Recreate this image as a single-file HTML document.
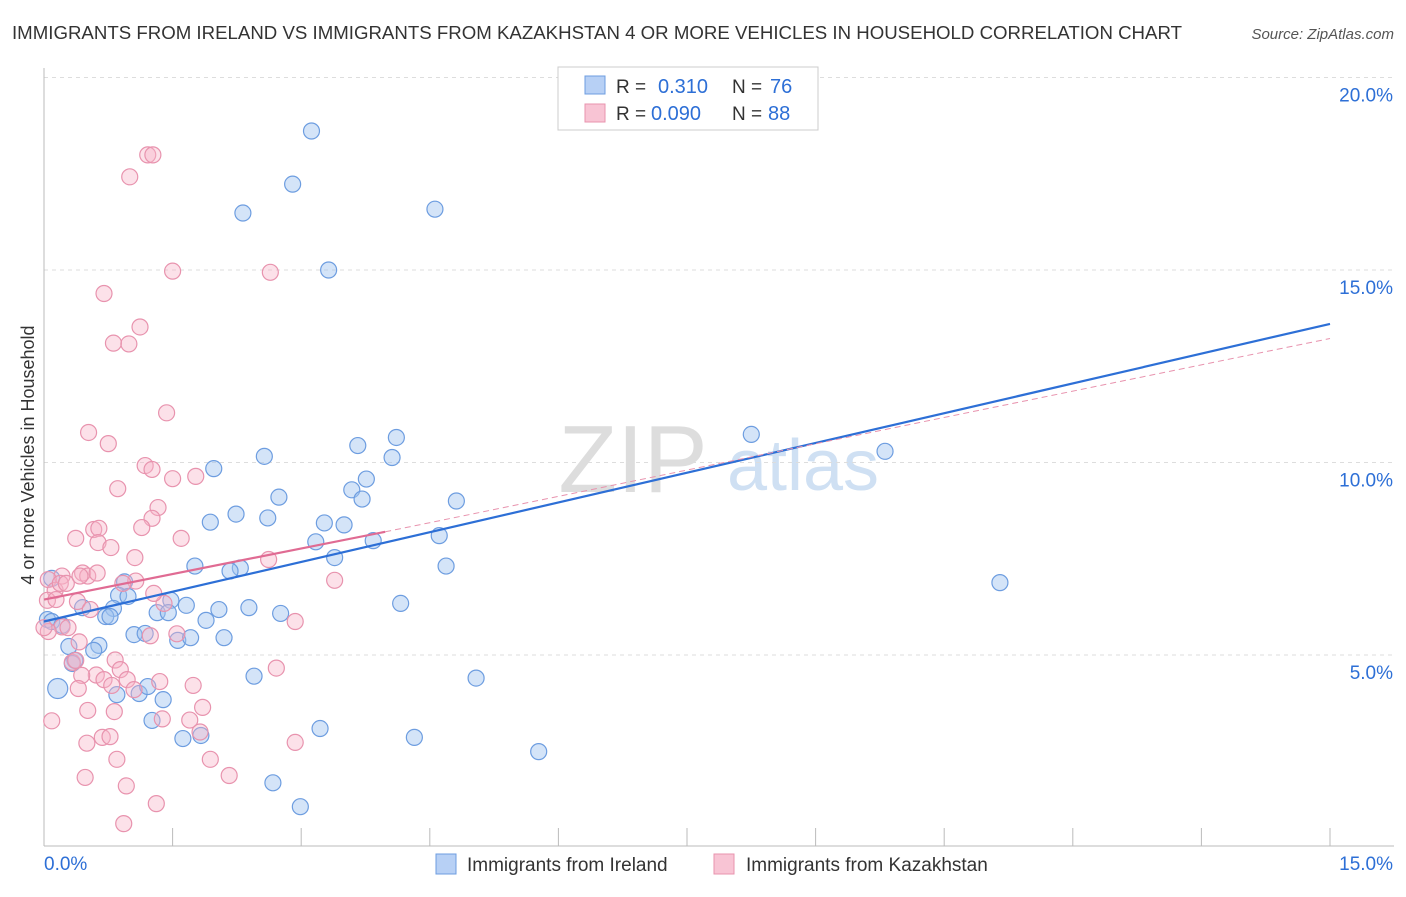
<!DOCTYPE html>
<html><head><meta charset="utf-8"><style>
body{margin:0;background:#fff;font-family:"Liberation Sans",sans-serif;}
svg text{font-family:"Liberation Sans",sans-serif;}
</style></head><body>
<svg id="c" width="1406" height="892" xmlns="http://www.w3.org/2000/svg">
<text x="12" y="39" font-size="18" fill="#333" textLength="1170" lengthAdjust="spacingAndGlyphs">IMMIGRANTS FROM IRELAND VS IMMIGRANTS FROM KAZAKHSTAN 4 OR MORE VEHICLES IN HOUSEHOLD CORRELATION CHART</text>
<text x="1394" y="39" font-size="15" fill="#555" font-style="italic" text-anchor="end">Source: ZipAtlas.com</text>
<text x="633" y="492" font-size="96" fill="#ddd" font-family="Liberation Serif" text-anchor="middle">ZIP</text>
<text x="803" y="490" font-size="72" fill="#cfe0f3" text-anchor="middle">atlas</text>
<text transform="translate(34,455) rotate(-90)" font-size="18" fill="#333" text-anchor="middle">4 or more Vehicles in Household</text>
<g id="grid"></g><g id="pts"></g><g id="lines"></g>
<g>
<rect x="558" y="67" width="260" height="63" fill="#fff" stroke="#ccc"/>
<rect x="585" y="76" width="20" height="18" fill="#b7d0f5" stroke="#6d9de0"/>
<rect x="585" y="104" width="20" height="18" fill="#f8c4d4" stroke="#e893ae"/>
<text x="616" y="93" font-size="19" fill="#333">R =</text><text x="658" y="93" font-size="20" fill="#2d6fd6">0.310</text>
<text x="732" y="93" font-size="19" fill="#333">N =</text><text x="770" y="93" font-size="20" fill="#2d6fd6">76</text>
<text x="616" y="120" font-size="19" fill="#333">R =</text><text x="651" y="120" font-size="20" fill="#2d6fd6">0.090</text>
<text x="732" y="120" font-size="19" fill="#333">N =</text><text x="768" y="120" font-size="20" fill="#2d6fd6">88</text>
</g>
<g>
<rect x="436" y="854" width="20" height="20" fill="#b7d0f5" stroke="#6d9de0"/>
<text x="467" y="871" font-size="19" fill="#333">Immigrants from Ireland</text>
<rect x="714" y="854" width="20" height="20" fill="#f8c4d4" stroke="#e893ae"/>
<text x="746" y="871" font-size="19" fill="#333">Immigrants from Kazakhstan</text>
</g>
</svg>
<script>
const xTicks=[0,1.5,3,4.5,6,7.5,9,10.5,12,13.5,15];
const yTicks=[5,10,15,20];
const yTickLabels=["5.0%","10.0%","15.0%","20.0%"];
const irelandX=[3.12,2.9,2.32,4.56,3.32,8.25,9.81,4.11,3.66,4.06,2.57,1.98,3.76,3.59,2.74,3.71,4.81,2.24,2.61,1.94,3.27,3.5,3.17,4.61,3.84,3.39,1.76,2.29,2.17,4.69,0.94,11.15,0.87,0.98,1.48,1.66,0.45,0.81,1.32,1.45,4.16,2.39,2.04,2.76,0.72,0.77,1.89,0.04,0.09,0.21,1.05,1.18,1.56,1.71,2.1,0.29,0.64,0.58,0.36,0.33,2.45,5.04,0.16,0.85,1.11,1.39,1.26,1.62,1.83,3.22,4.32,5.77,2.67,2.99,1.21,0.09];
const irelandY=[18.61,17.23,16.48,16.58,15.0,10.73,10.29,10.65,10.44,10.13,10.16,9.84,9.57,9.29,9.1,9.05,9.0,8.66,8.56,8.45,8.43,8.38,7.94,8.1,7.97,7.53,7.31,7.26,7.18,7.31,6.9,6.88,6.55,6.52,6.42,6.29,6.23,6.21,6.1,6.1,6.34,6.23,6.18,6.08,6.0,6.0,5.9,5.92,5.87,5.77,5.53,5.56,5.38,5.45,5.45,5.22,5.25,5.12,4.86,4.78,4.45,4.4,4.13,3.97,4.0,3.84,3.3,2.83,2.91,3.09,2.86,2.49,1.68,1.06,4.18,6.99];
const kazX=[1.21,1.27,1.0,1.5,2.64,0.7,1.12,0.81,0.99,1.43,0.52,0.75,1.18,1.26,1.5,1.77,0.86,1.33,1.26,1.14,0.58,0.64,0.37,1.6,0.63,0.78,1.06,2.62,0.21,0.45,0.51,0.62,1.07,0.92,3.39,0.05,0.13,0.19,0.26,0.04,0.39,0.54,1.4,1.28,0.21,0.28,2.93,1.55,1.24,0.41,0.05,0.83,0.33,0.37,2.71,0.61,0.44,0.7,0.89,0.97,1.35,1.74,0.79,1.05,0.4,1.85,0.51,0.82,1.38,0.09,1.7,0.5,0.68,0.77,1.82,2.93,1.94,0.85,0.48,2.16,0.96,1.31,0.93,0,0.14,0.42];
const kazY=[17.99,17.99,17.42,14.97,14.94,14.39,13.52,13.1,13.08,11.29,10.78,10.49,9.92,9.82,9.58,9.64,9.32,8.83,8.55,8.31,8.26,8.29,8.03,8.03,7.92,7.79,7.53,7.48,7.05,7.13,7.05,7.13,6.92,6.86,6.94,6.96,6.68,6.86,6.86,6.42,6.39,6.18,6.34,6.6,5.73,5.71,5.87,5.55,5.5,5.34,5.61,4.87,4.81,4.86,4.66,4.48,4.47,4.36,4.62,4.36,4.31,4.21,4.21,4.1,4.13,3.64,3.56,3.53,3.34,3.29,3.31,2.71,2.86,2.88,3.0,2.73,2.29,2.29,1.82,1.87,1.6,1.14,0.62,5.71,6.44,7.05];
const xs=v=>44+v/15*1286, ys=v=>847.5-v/5*192.5;
const NS='http://www.w3.org/2000/svg';
function mk(t,a,p){const e=document.createElementNS(NS,t);for(const k in a)e.setAttribute(k,a[k]);p.appendChild(e);return e;}
const g=document.getElementById('grid');
yTicks.forEach((v,i)=>{
 const l=mk('line',{x1:44,x2:1394,y1:ys(v),y2:ys(v),stroke:'#ddd','stroke-dasharray':'4,4'},g);
 
 
 const t=mk('text',{x:1393,y:ys(v)+24,'font-size':19,fill:'#2d6fd6','text-anchor':'end'},g);t.textContent=yTickLabels[i];
 
 
});
mk('line',{x1:44,x2:44,y1:68,y2:846,stroke:'#bbb'},g);
mk('line',{x1:44,x2:1394,y1:846,y2:846,stroke:'#bbb'},g);
xTicks.forEach(v=>{const l=mk('line',{x1:xs(v),x2:xs(v),y1:828,y2:846,stroke:'#bbb'},g);
 
 });
let t=mk('text',{x:44,y:870,'font-size':19,fill:'#2d6fd6'},g);t.textContent='0.0%';


t=mk('text',{x:1393,y:870,'font-size':19,fill:'#2d6fd6','text-anchor':'end'},g);t.textContent='15.0%';


const P=document.getElementById('pts');
irelandX.forEach((x,i)=>{const c=mk('circle',{cx:xs(x),cy:ys(irelandY[i]),r:(i==62?10:8),fill:'rgba(160,195,240,0.45)',stroke:'#6d9de0','stroke-width':1.2},P);
 
 });
kazX.forEach((x,i)=>{const c=mk('circle',{cx:xs(x),cy:ys(kazY[i]),r:8,fill:'rgba(248,180,200,0.4)',stroke:'#e893ae','stroke-width':1.2},P);
 
 });
const L=document.getElementById('lines');
let l=mk('line',{x1:xs(0),y1:ys(5.87),x2:xs(15),y2:ys(13.6),stroke:'#2d6fd6','stroke-width':2.2},L);


l=mk('line',{x1:xs(0),y1:ys(6.44),x2:xs(3.98),y2:ys(8.2),stroke:'#e06b93','stroke-width':2.2},L);


l=mk('line',{x1:xs(3.98),y1:ys(8.2),x2:xs(15),y2:ys(13.22),stroke:'#e893ae','stroke-width':1,'stroke-dasharray':'6,4'},L);


</script>
</body></html>
